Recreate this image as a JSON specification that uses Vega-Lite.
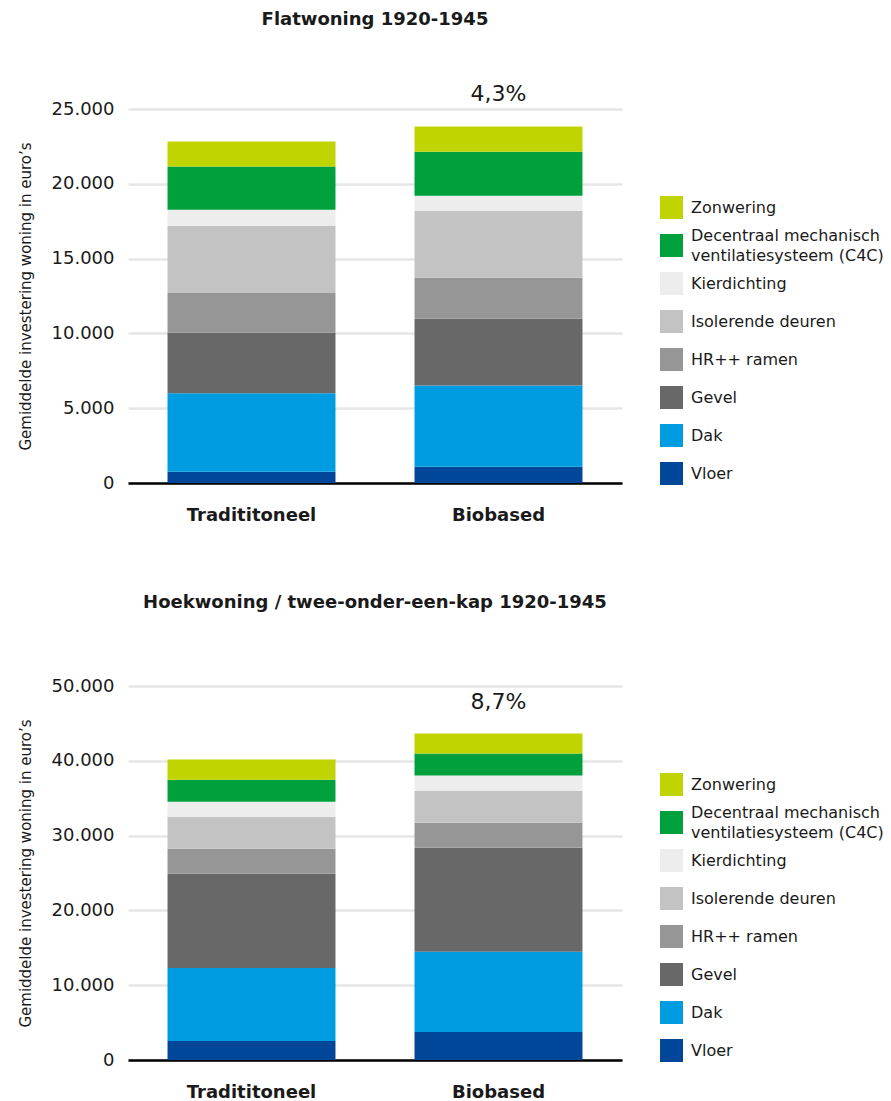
{
  "$schema": "https://vega.github.io/schema/vega-lite/v6.json",
  "background": "white",
  "padding": {"left": 18, "top": 11, "right": 5, "bottom": 0},
  "config": {
    "font": "DejaVu Sans",
    "view": {"stroke": null},
    "title": {"font": "DejaVu Sans", "fontSize": 18, "fontWeight": "bold", "color": "#1a1a1a", "anchor": "middle", "frame": "group"},
    "axisY": {"labelFontSize": 18, "labelColor": "#1a1a1a", "labelPadding": 14, "domain": false, "ticks": false, "gridColor": "#e6e6e6", "gridWidth": 2.5, "titleFontSize": 15, "titleFontWeight": "normal", "titleColor": "#1a1a1a", "titlePadding": 18, "labelExpr": "replace(format(datum.value, ','), ',', '.')"},
    "axisX": {"labelFontSize": 18, "labelFontWeight": "bold", "labelColor": "#1a1a1a", "labelPadding": 23, "domainColor": "#000000", "domainWidth": 2.5, "ticks": false, "grid": false, "labelAngle": 0, "title": null},
    "legend": {"symbolType": "square", "symbolSize": 529, "symbolStrokeColor": "transparent", "symbolStrokeWidth": 4, "symbolOpacity": 1, "labelFontSize": 16, "labelColor": "#1a1a1a", "labelOffset": 6, "rowPadding": -1, "padding": 0, "labelLimit": 400, "title": null},
    "concat": {"spacing": 70}
  },
  "datasets": {
    "flat": [
      {"type": "Tradititoneel", "cat": "Vloer", "value": 750},
      {"type": "Tradititoneel", "cat": "Dak", "value": 5250},
      {"type": "Tradititoneel", "cat": "Gevel", "value": 4050},
      {"type": "Tradititoneel", "cat": "HR++ ramen", "value": 2650},
      {"type": "Tradititoneel", "cat": "Isolerende deuren", "value": 4500},
      {"type": "Tradititoneel", "cat": "Kierdichting", "value": 1070},
      {"type": "Tradititoneel", "cat": "Decentraal mechanisch ventilatiesysteem (C4C)", "value": 2880},
      {"type": "Tradititoneel", "cat": "Zonwering", "value": 1670},
      {"type": "Biobased", "cat": "Vloer", "value": 1090},
      {"type": "Biobased", "cat": "Dak", "value": 5430},
      {"type": "Biobased", "cat": "Gevel", "value": 4460},
      {"type": "Biobased", "cat": "HR++ ramen", "value": 2740},
      {"type": "Biobased", "cat": "Isolerende deuren", "value": 4480},
      {"type": "Biobased", "cat": "Kierdichting", "value": 1000},
      {"type": "Biobased", "cat": "Decentraal mechanisch ventilatiesysteem (C4C)", "value": 2950},
      {"type": "Biobased", "cat": "Zonwering", "value": 1680}
    ],
    "hoek": [
      {"type": "Tradititoneel", "cat": "Vloer", "value": 2540},
      {"type": "Tradititoneel", "cat": "Dak", "value": 9760},
      {"type": "Tradititoneel", "cat": "Gevel", "value": 12600},
      {"type": "Tradititoneel", "cat": "HR++ ramen", "value": 3350},
      {"type": "Tradititoneel", "cat": "Isolerende deuren", "value": 4280},
      {"type": "Tradititoneel", "cat": "Kierdichting", "value": 2010},
      {"type": "Tradititoneel", "cat": "Decentraal mechanisch ventilatiesysteem (C4C)", "value": 2940},
      {"type": "Tradititoneel", "cat": "Zonwering", "value": 2680},
      {"type": "Biobased", "cat": "Vloer", "value": 3750},
      {"type": "Biobased", "cat": "Dak", "value": 10710},
      {"type": "Biobased", "cat": "Gevel", "value": 13920},
      {"type": "Biobased", "cat": "HR++ ramen", "value": 3350},
      {"type": "Biobased", "cat": "Isolerende deuren", "value": 4280},
      {"type": "Biobased", "cat": "Kierdichting", "value": 2010},
      {"type": "Biobased", "cat": "Decentraal mechanisch ventilatiesysteem (C4C)", "value": 2940},
      {"type": "Biobased", "cat": "Zonwering", "value": 2680}
    ],
    "pct1": [{"type": "Biobased", "y": 26000, "t": "4,3%"}],
    "pct2": [{"type": "Biobased", "y": 47800, "t": "8,7%"}]
  },
  "resolve": {"scale": {"x": "independent", "y": "independent", "color": "independent"}, "legend": {"color": "independent"}},
  "vconcat": [
    {
      "width": 494,
      "height": 374,
      "title": {"text": "Flatwoning 1920-1945", "offset": 54},
      "layer": [
        {
          "data": {"name": "flat"},
          "transform": [{"calculate": "indexof(['Vloer','Dak','Gevel','HR++ ramen','Isolerende deuren','Kierdichting','Decentraal mechanisch ventilatiesysteem (C4C)','Zonwering'], datum.cat)", "as": "ord"}],
          "mark": {"type": "bar"},
          "encoding": {
            "x": {"field": "type", "type": "nominal", "scale": {"domain": ["Tradititoneel", "Biobased"], "paddingInner": 0.32, "paddingOuter": 0.16}},
            "y": {"field": "value", "type": "quantitative", "stack": "zero", "scale": {"domain": [0, 25000]}, "axis": {"values": [0, 5000, 10000, 15000, 20000, 25000], "title": "Gemiddelde investering woning in euro’s"}},
            "order": {"field": "ord", "type": "quantitative", "sort": "ascending"},
            "color": {
              "field": "cat", "type": "nominal",
              "scale": {"domain": ["Vloer", "Dak", "Gevel", "HR++ ramen", "Isolerende deuren", "Kierdichting", "Decentraal mechanisch ventilatiesysteem (C4C)", "Zonwering"], "range": ["#004799", "#009ce2", "#686868", "#969696", "#c3c3c3", "#ededed", "#00a03d", "#bfd400"]},
              "legend": {"orient": "none", "legendX": 530, "legendY": 85, "values": ["Zonwering", "Decentraal mechanisch ventilatiesysteem (C4C)", "Kierdichting", "Isolerende deuren", "HR++ ramen", "Gevel", "Dak", "Vloer"], "labelExpr": "datum.label == 'Decentraal mechanisch ventilatiesysteem (C4C)' ? ['Decentraal mechanisch', 'ventilatiesysteem (C4C)'] : datum.label", "encode": {"labels": {"update": {"lineHeight": {"value": 20}, "dy": {"signal": "datum.value == 'Decentraal mechanisch ventilatiesysteem (C4C)' ? -10 : 0"}}}}}
            }
          }
        },
        {
          "data": {"name": "pct1"},
          "mark": {"type": "text", "fontSize": 22, "color": "#1a1a1a", "baseline": "middle"},
          "encoding": {
            "x": {"field": "type", "type": "nominal"},
            "y": {"field": "y", "type": "quantitative", "scale": {"domain": [0, 25000]}, "title": "Gemiddelde investering woning in euro’s"},
            "text": {"field": "t"}
          }
        }
      ]
    },
    {
      "width": 494,
      "height": 374,
      "title": {"text": "Hoekwoning / twee-onder-een-kap 1920-1945", "offset": 65},
      "layer": [
        {
          "data": {"name": "hoek"},
          "transform": [{"calculate": "indexof(['Vloer','Dak','Gevel','HR++ ramen','Isolerende deuren','Kierdichting','Decentraal mechanisch ventilatiesysteem (C4C)','Zonwering'], datum.cat)", "as": "ord"}],
          "mark": {"type": "bar"},
          "encoding": {
            "x": {"field": "type", "type": "nominal", "scale": {"domain": ["Tradititoneel", "Biobased"], "paddingInner": 0.32, "paddingOuter": 0.16}},
            "y": {"field": "value", "type": "quantitative", "stack": "zero", "scale": {"domain": [0, 50000]}, "axis": {"values": [0, 10000, 20000, 30000, 40000, 50000], "title": "Gemiddelde investering woning in euro’s"}},
            "order": {"field": "ord", "type": "quantitative", "sort": "ascending"},
            "color": {
              "field": "cat", "type": "nominal",
              "scale": {"domain": ["Vloer", "Dak", "Gevel", "HR++ ramen", "Isolerende deuren", "Kierdichting", "Decentraal mechanisch ventilatiesysteem (C4C)", "Zonwering"], "range": ["#004799", "#009ce2", "#686868", "#969696", "#c3c3c3", "#ededed", "#00a03d", "#bfd400"]},
              "legend": {"orient": "none", "legendX": 530, "legendY": 85, "values": ["Zonwering", "Decentraal mechanisch ventilatiesysteem (C4C)", "Kierdichting", "Isolerende deuren", "HR++ ramen", "Gevel", "Dak", "Vloer"], "labelExpr": "datum.label == 'Decentraal mechanisch ventilatiesysteem (C4C)' ? ['Decentraal mechanisch', 'ventilatiesysteem (C4C)'] : datum.label", "encode": {"labels": {"update": {"lineHeight": {"value": 20}, "dy": {"signal": "datum.value == 'Decentraal mechanisch ventilatiesysteem (C4C)' ? -10 : 0"}}}}}
            }
          }
        },
        {
          "data": {"name": "pct2"},
          "mark": {"type": "text", "fontSize": 22, "color": "#1a1a1a", "baseline": "middle"},
          "encoding": {
            "x": {"field": "type", "type": "nominal"},
            "y": {"field": "y", "type": "quantitative", "scale": {"domain": [0, 50000]}, "title": "Gemiddelde investering woning in euro’s"},
            "text": {"field": "t"}
          }
        }
      ]
    }
  ]
}
